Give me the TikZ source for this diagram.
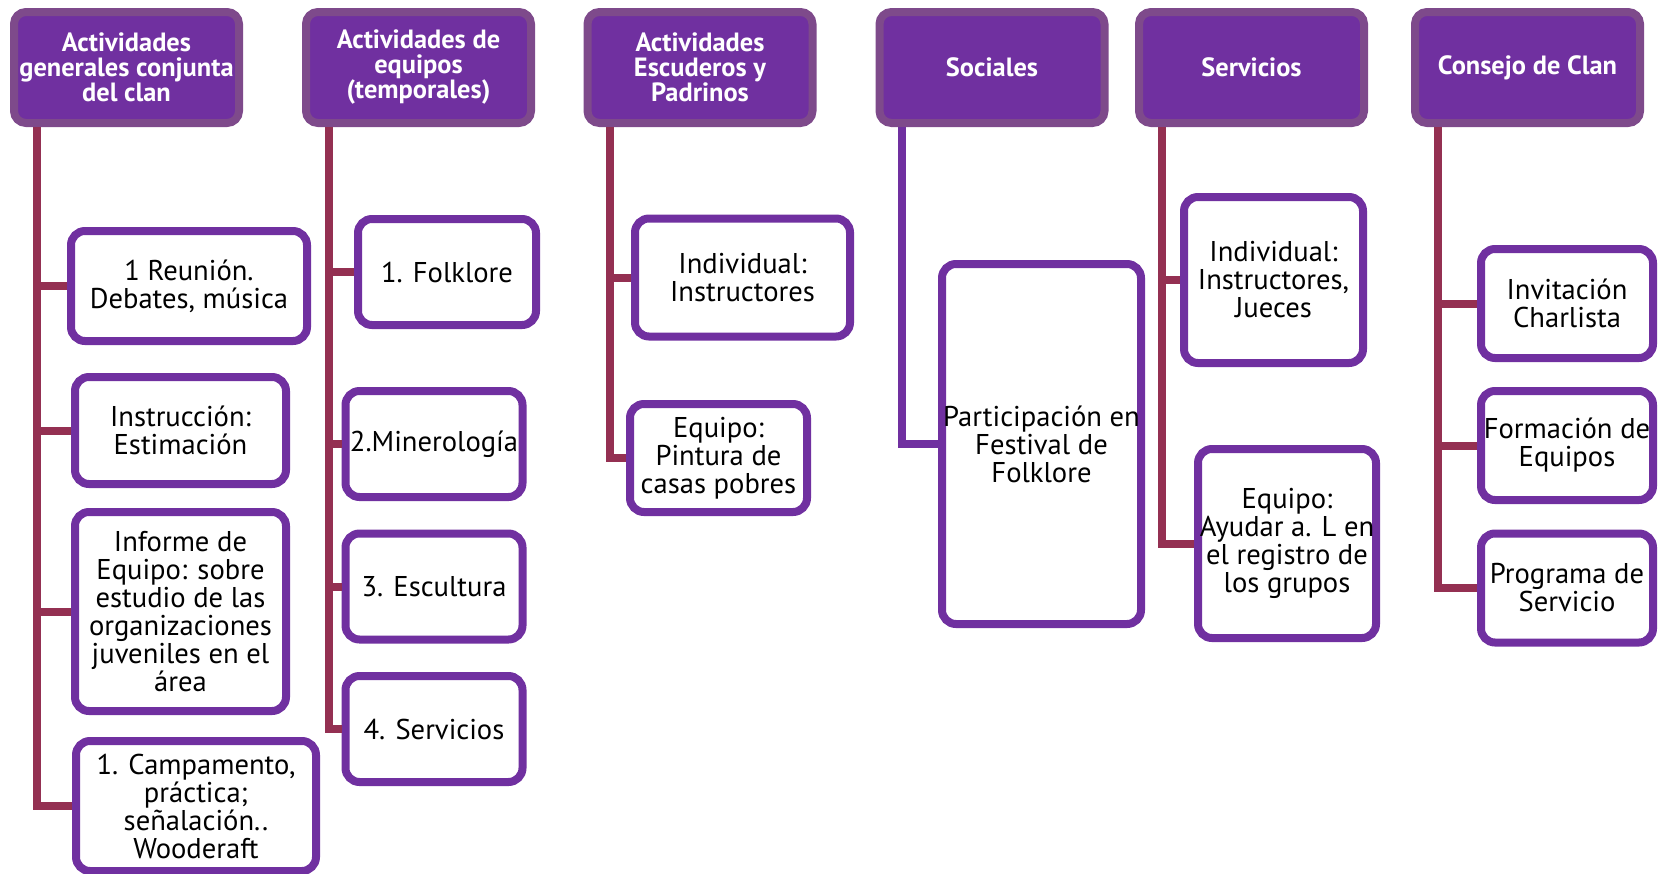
\documentclass[tikz,border=0pt]{standalone}
\usepackage{fontspec}
\setmainfont{PT Sans}
\usepackage{tikz}
\usetikzlibrary{positioning}
\definecolor{clanpurple}{HTML}{7030A0}
\definecolor{headedge}{HTML}{7E4A8B}
\definecolor{linkred}{HTML}{943052}

\tikzset{
  head/.style={draw=headedge, fill=clanpurple, line width=4pt, rounded corners=6pt,
    text=white, font=\bfseries\fontsize{13.2}{12.5}\selectfont, align=center,
    minimum width=112.5pt, minimum height=55.5pt, inner sep=0pt},
  item/.style={draw=clanpurple, fill=white, line width=4pt, rounded corners=7pt,
    font=\fontsize{14.3}{14}\selectfont, align=center, inner sep=0pt},
  conn/.style={draw=linkred, line width=4pt},
}

\begin{document}
\begin{tikzpicture}[x=0.5pt, y=-0.5pt]
    \useasboundingbox (0,0) rectangle (1658,873);

    \node[head] (H1) at (126.5,67.5) {Actividades\\generales conjunta\\del clan};
    \node[head] (H2) at (418.5,67.5) {Actividades de\\equipos\\(temporales)\vphantom{g}};
    \node[head] (H3) at (700,67.5) {Actividades\\Escuderos y\\Padrinos};
    \node[head] (H4) at (992,67.5) {Sociales};
    \node[head] (H5) at (1251.5,67.5) {Servicios};
    \node[head] (H6) at (1527.5,67.5) {Consejo de Clan};

    \coordinate (T1) at ([xshift=13.3pt]H1.south west);
    \coordinate (T2) at ([xshift=13.3pt]H2.south west);
    \coordinate (T3) at ([xshift=13.3pt]H3.south west);
    \coordinate (T4) at ([xshift=13.3pt]H4.south west);
    \coordinate (T5) at ([xshift=13.3pt]H5.south west);
    \coordinate (T6) at ([xshift=13.3pt]H6.south west);

    \node[item, minimum width=118pt, minimum height=55pt] (A1) at (189,286) {1 Reunión.\\Debates, música};
    \node[item, minimum width=105.5pt, minimum height=53.5pt] (A2) at (180.5,430.5) {Instrucción:\\Estimación};
    \node[item, minimum width=105.5pt, minimum height=99.5pt] (A3) at (180.5,611.5) {Informe de\\Equipo: sobre\\estudio de las\\organizaciones\\juveniles en el\\área};
    \node[item, minimum width=120pt, minimum height=65pt] (A4) at (196,806) {1. Campamento,\\práctica;\\señalación..\\Wooderaft};

    \node[item, minimum width=89pt, minimum height=53pt] (B1) at (447,272) {1. Folklore};
    \node[item, minimum width=88.5pt, minimum height=53pt] (B2) at (434,444) {2.Minerología};
    \node[item, minimum width=88.5pt, minimum height=53pt] (B3) at (434,586.5) {3. Escultura};
    \node[item, minimum width=88.5pt, minimum height=53pt] (B4) at (434,729) {4. Servicios};

    \node[item, minimum width=107.5pt, minimum height=59pt] (C1) at (742.5,277.5) {Individual:\\Instructores};
    \node[item, minimum width=88.5pt, minimum height=54pt] (C2) at (718.5,458) {Equipo:\\Pintura de\\casas pobres};

    \node[item, minimum width=99.5pt, minimum height=180pt] (D1) at (1041.5,444) {Participación en\\Festival de\\Folklore};

    \node[item, minimum width=89.5pt, minimum height=83pt] (E1) at (1273.5,280) {Individual:\\Instructores,\\Jueces};
    \node[item, minimum width=89pt, minimum height=94.5pt] (E2) at (1287,543.5) {Equipo:\\Ayudar a. L en\\el registro de\\los grupos};

    \node[item, minimum width=86pt, minimum height=54.5pt] (F1) at (1567,303.5) {Invitación\\Charlista};
    \node[item, minimum width=86pt, minimum height=54.5pt] (F2) at (1567,445.5) {Formación de\\Equipos};
    \node[item, minimum width=86pt, minimum height=54.5pt] (F3) at (1567,588) {Programa de\\Servicio};

    \draw[conn] (T1) |- (A1.west);
    \draw[conn] (T1) |- (A2.west);
    \draw[conn] (T1) |- (A3.west);
    \draw[conn] (T1) |- (A4.west);
    \draw[conn] (T2) |- (B1.west);
    \draw[conn] (T2) |- (B2.west);
    \draw[conn] (T2) |- (B3.west);
    \draw[conn] (T2) |- (B4.west);
    \draw[conn] (T3) |- (C1.west);
    \draw[conn] (T3) |- (C2.west);
    \draw[conn, draw=clanpurple] (T4) |- (D1.west);
    \draw[conn] (T5) |- (E1.west);
    \draw[conn] (T5) |- (E2.west);
    \draw[conn] (T6) |- (F1.west);
    \draw[conn] (T6) |- (F2.west);
    \draw[conn] (T6) |- (F3.west);
\end{tikzpicture}
\end{document}
